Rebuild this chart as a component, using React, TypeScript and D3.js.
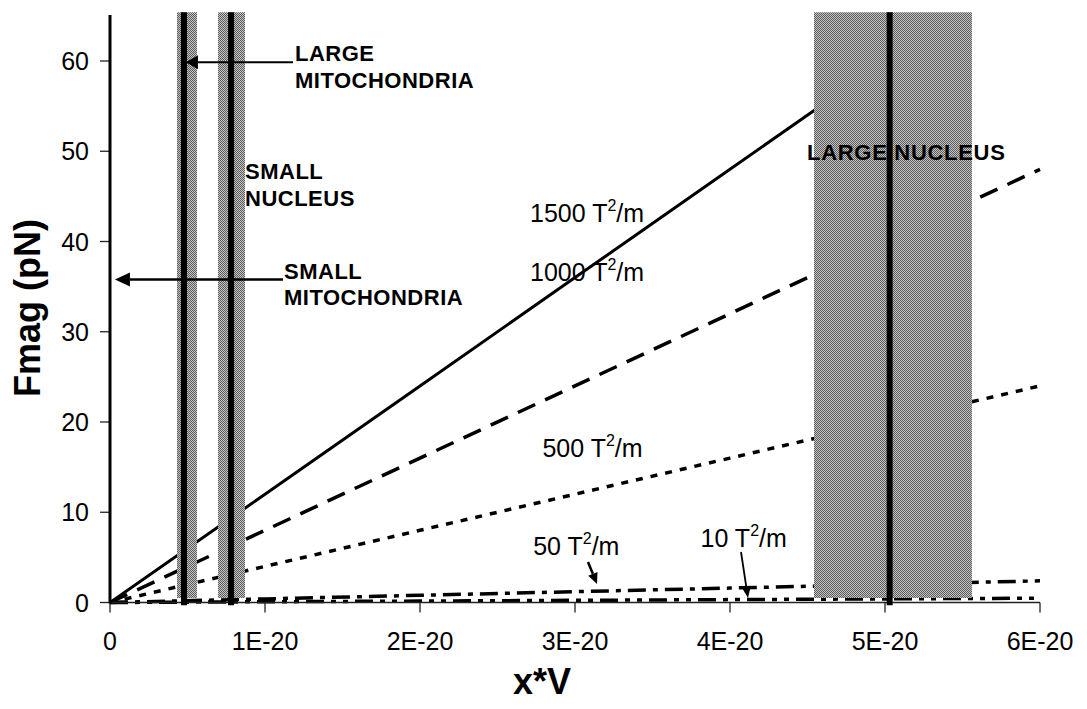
import React from "react";
import * as d3 from "d3";

// x*V values (m^3 scale) at which each curve is evaluated
const xValues = [0, 1e-20, 2e-20, 3e-20, 4e-20, 5e-20, 6e-20];

// Magnetic force (pN) for each field-gradient product
const f1500 = [0, 12, 24, 36, 48, 60, 72];
const f1000 = [0, 8, 16, 24, 32, 40, 48];
const f500 = [0, 4, 8, 12, 16, 20, 24];
const f50 = [0, 0.4, 0.8, 1.2, 1.6, 2.0, 2.4];
const f10 = [0, 0.08, 0.16, 0.24, 0.32, 0.4, 0.48];

const seriesNames = ["1500", "1000", "500", "50", "10"];

// Axis ticks
const xTicks = [0, 1e-20, 2e-20, 3e-20, 4e-20, 5e-20, 6e-20];
const xTickLabels = ["0", "1E-20", "2E-20", "3E-20", "4E-20", "5E-20", "6E-20"];
const yTicks = [0, 10, 20, 30, 40, 50, 60];

// Organelle size ranges: typical value and spread (x*V)
const bandCenter = [0.477e-20, 0.781e-20, 5.03e-20];
const bandLow = [0.432e-20, 0.697e-20, 4.542e-20];
const bandHigh = [0.561e-20, 0.871e-20, 5.561e-20];

const W = 1087;
const H = 709;
const FONT = "'Liberation Sans', Arial, Helvetica, sans-serif";

const x = d3.scaleLinear().domain([0, 6e-20]).range([110, 1040]);
const y = d3.scaleLinear().domain([0, 60]).range([602.5, 61]);

const seriesData = [f1500, f1000, f500, f50, f10];
const seriesStyle = [
  { dash: "none", width: 3 },
  { dash: "19 11", width: 3.5 },
  { dash: "7 8", width: 3.5 },
  { dash: "18 7 5 7", width: 3.5 },
  { dash: "18 7 5 7 5 7", width: 3.5 },
];

// Series label anchors in data space
const seriesLabelX = [2.71e-20, 2.71e-20, 2.79e-20, 2.73e-20, 3.81e-20];
const seriesLabelY = [42.2, 35.6, 16.1, 5.25, 6.15];

function Arrow({ x1, y1, x2, y2, width, head, half }) {
  const dx = x2 - x1;
  const dy = y2 - y1;
  const len = Math.sqrt(dx * dx + dy * dy);
  const ux = dx / len;
  const uy = dy / len;
  const bx = x2 - ux * head;
  const by = y2 - uy * head;
  const px = -uy * half;
  const py = ux * half;
  return (
    <g>
      <line x1={x1} y1={y1} x2={bx} y2={by} stroke="#000" strokeWidth={width} />
      <polygon
        points={`${x2},${y2} ${bx + px},${by + py} ${bx - px},${by - py}`}
        fill="#000"
      />
    </g>
  );
}

function SeriesLabel({ px, py, value }) {
  return (
    <text x={px} y={py} fontFamily={FONT} fontSize={25} fill="#000">
      {value + " T"}
      <tspan fontSize={16} dy={-11}>2</tspan>
      <tspan dy={11}>/m</tspan>
    </text>
  );
}

export default function App() {
  const line = d3
    .line<number>()
    .x((_, i) => x(xValues[i]))
    .y((d) => y(d));

  const bandTop = y(65.4);
  const bandBottom = y(0.5);
  const lineBottom = y(-0.3);

  return (
    <svg
      width={W}
      height={H}
      viewBox={`0 0 ${W} ${H}`}
      style={{ position: "absolute", left: 0, top: 0, background: "#fff" }}
    >
      <defs>
        <pattern id="checker" width={2} height={2} patternUnits="userSpaceOnUse">
          <rect width={2} height={2} fill="#c4c4c4" />
          <rect x={0} y={0} width={1} height={1} fill="#5c5c5c" />
          <rect x={1} y={1} width={1} height={1} fill="#5c5c5c" />
        </pattern>
        <clipPath id="plotClip">
          <rect x={x(0)} y={y(65)} width={x(6e-20) - x(0) + 2} height={y(0) - y(65) + 4} />
        </clipPath>
      </defs>

      {/* force curves */}
      <g clipPath="url(#plotClip)">
        {seriesData.map((d, i) => (
          <path
            key={seriesNames[i]}
            d={line(d) || ""}
            fill="none"
            stroke="#000"
            strokeWidth={seriesStyle[i].width}
            strokeDasharray={seriesStyle[i].dash}
          />
        ))}
      </g>

      {/* organelle size ranges */}
      {bandCenter.map((c, i) => (
        <rect
          key={"band" + i}
          x={x(bandLow[i])}
          y={bandTop}
          width={x(bandHigh[i]) - x(bandLow[i])}
          height={bandBottom - bandTop}
          fill="url(#checker)"
        />
      ))}

      {/* axes */}
      <line x1={x(0)} x2={x(6e-20)} y1={y(0)} y2={y(0)} stroke="#222" strokeWidth={1.5} />
      {xTicks.map((t, i) => (
        <g key={"xt" + i}>
          <line x1={x(t)} x2={x(t)} y1={y(0)} y2={y(0) + 10} stroke="#222" strokeWidth={1.3} />
          <text
            x={x(t)}
            y={650}
            textAnchor="middle"
            fontFamily={FONT}
            fontSize={25}
            fill="#000"
          >
            {xTickLabels[i]}
          </text>
        </g>
      ))}
      {yTicks.map((t) => (
        <g key={"yt" + t}>
          <line x1={x(0) - 10} x2={x(0)} y1={y(t)} y2={y(t)} stroke="#222" strokeWidth={1.3} />
          <text
            x={89}
            y={y(t) + 9}
            textAnchor="end"
            fontFamily={FONT}
            fontSize={25}
            fill="#000"
          >
            {t}
          </text>
        </g>
      ))}
      <line x1={x(0)} x2={x(0)} y1={y(65.1)} y2={y(0) + 1} stroke="#000" strokeWidth={3} />

      {/* typical values */}
      {bandCenter.map((c, i) => (
        <line
          key={"center" + i}
          x1={x(c)}
          x2={x(c)}
          y1={bandTop}
          y2={lineBottom}
          stroke="#000"
          strokeWidth={6}
        />
      ))}

      {/* axis titles */}
      <text
        x={542}
        y={694}
        textAnchor="middle"
        fontFamily={FONT}
        fontWeight="bold"
        fontSize={36}
        fill="#000"
      >
        x*V
      </text>
      <text
        transform={`translate(40, 308) rotate(-90)`}
        textAnchor="middle"
        fontFamily={FONT}
        fontWeight="bold"
        fontSize={36}
        fill="#000"
      >
        Fmag (pN)
      </text>

      {/* series labels */}
      {seriesNames.map((n, i) => (
        <SeriesLabel key={"lbl" + n} px={x(seriesLabelX[i])} py={y(seriesLabelY[i])} value={n} />
      ))}
      <Arrow x1={588} y1={562} x2={597} y2={584} width={2.5} head={11} half={5} />
      <Arrow x1={741} y1={552} x2={748} y2={598} width={1.8} head={10} half={4} />

      {/* organelle annotations */}
      <Arrow x1={x(1.181e-20)} y1={y(59.85)} x2={x(0.49e-20)} y2={y(59.85)} width={2} head={12} half={7} />
      <Arrow x1={x(1.116e-20)} y1={y(35.8)} x2={x(0.032e-20)} y2={y(35.8)} width={2.5} head={15} half={7} />

      <g fontFamily={FONT} fontWeight="bold" fontSize={22} fill="#000">
        <text x={295} y={61} letterSpacing={0.5}>LARGE</text>
        <text x={295} y={87.5} letterSpacing={0.5}>MITOCHONDRIA</text>
        <text x={245} y={178.5} letterSpacing={0.5}>SMALL</text>
        <text x={245} y={205.5} letterSpacing={0.5}>NUCLEUS</text>
        <text x={284} y={278.5} letterSpacing={0.5}>SMALL</text>
        <text x={284} y={305} letterSpacing={0.5}>MITOCHONDRIA</text>
        <text x={807} y={159.5} letterSpacing={0.7}>LARGE NUCLEUS</text>
      </g>
    </svg>
  );
}
